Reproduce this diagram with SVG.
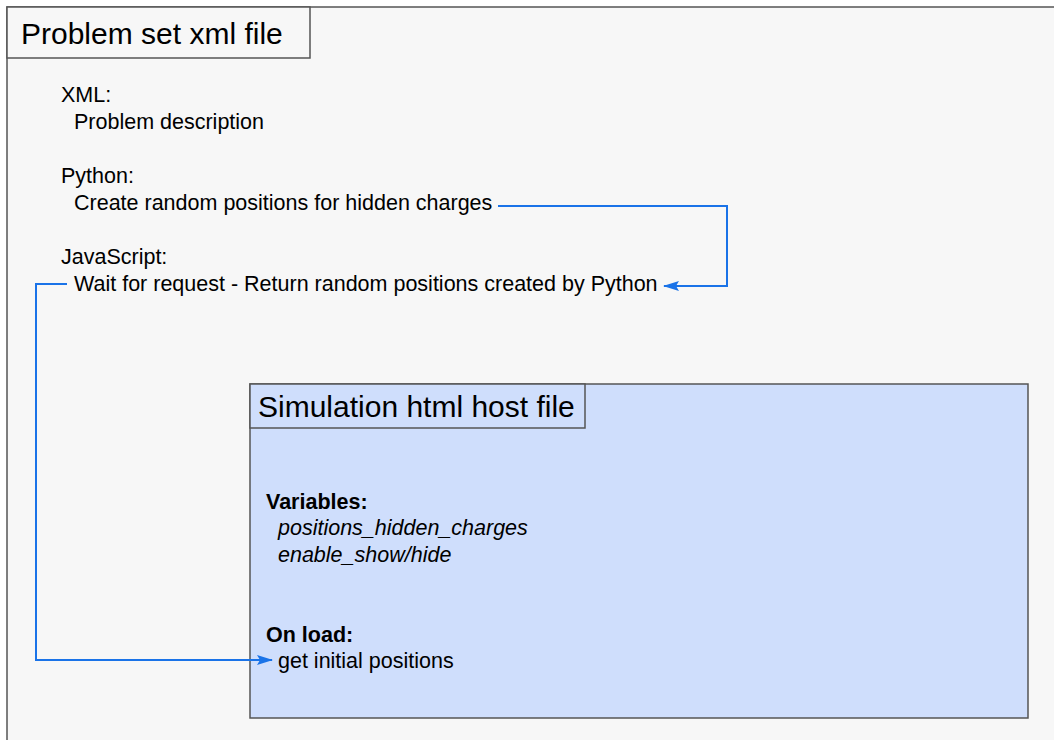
<svg xmlns="http://www.w3.org/2000/svg" width="1054" height="740" viewBox="0 0 1054 740">
<style>
.t{font-family:"Liberation Sans",Arial,sans-serif;fill:#000}
.title{font-size:30px}
.body{font-size:21.5px}
.b{font-weight:bold}
.i{font-style:italic}
.conn{fill:none;stroke:#1a73e8;stroke-width:2}
.frame{stroke:#555;stroke-width:1.5}
</style>
<defs>
<marker id="ah" viewBox="0 0 16 12" refX="15" refY="6" markerWidth="16" markerHeight="12" markerUnits="userSpaceOnUse" orient="auto">
<path d="M0,1 L16,6 L0,11 L3,6 z" fill="#1a73e8"/>
</marker>
</defs>
<rect width="1054" height="740" fill="#fff"/>
<g id="problem-set">
<rect x="7" y="7" width="1060" height="750" fill="#f7f7f7" class="frame"/>
<rect x="7" y="7" width="303" height="51" fill="#f7f7f7" class="frame"/>
<text class="t title" x="21" y="44">Problem set xml file</text>
<text class="t body" x="61" y="102">XML:</text>
<text class="t body" x="74" y="129">Problem description</text>
<text class="t body" x="61" y="183">Python:</text>
<text class="t body" x="74" y="210">Create random positions for hidden charges</text>
<text class="t body" x="61" y="264">JavaScript:</text>
<text class="t body" x="74" y="291">Wait for request - Return random positions created by Python</text>
</g>
<g id="simulation">
<rect x="250" y="384" width="778" height="334" fill="#cfdefc" class="frame"/>
<rect x="250" y="384" width="335" height="44" fill="#cfdefc" class="frame"/>
<text class="t title" x="258" y="417">Simulation html host file</text>
<text class="t body b" x="266" y="509">Variables:</text>
<text class="t body i" x="278" y="535">positions_hidden_charges</text>
<text class="t body i" x="278" y="562">enable_show/hide</text>
<text class="t body b" x="266" y="642">On load:</text>
<text class="t body" x="278" y="668">get initial positions</text>
</g>
<g id="connectors">
<path class="conn" d="M498,206 H727 V286 H664" marker-end="url(#ah)"/>
<path class="conn" d="M67,284 H36 V660 H272" marker-end="url(#ah)"/>
</g>
</svg>
